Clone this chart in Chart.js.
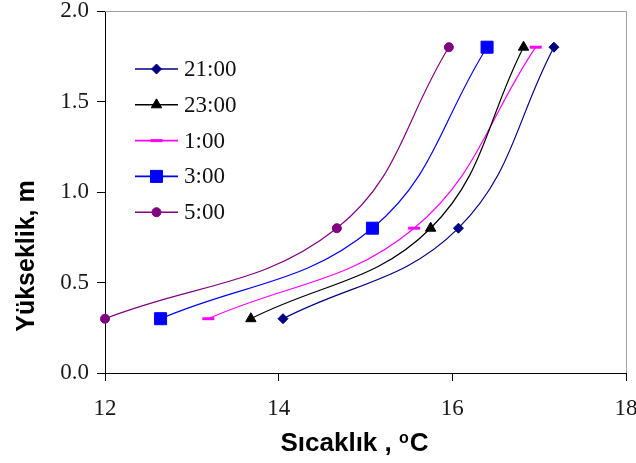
<!DOCTYPE html>
<html>
<head>
<meta charset="utf-8">
<script src="https://cdn.jsdelivr.net/npm/chart.js@4.4.1/dist/chart.umd.min.js"></script>
<style>
  html, body { margin: 0; padding: 0; background: #fff; }
  #wrap { width: 636px; height: 463px; }
</style>
</head>
<body>
<div id="wrap"><canvas id="chart" width="636" height="463"></canvas></div>
<script>
// === data ===
const heights = [0.3, 0.8, 1.8];          // Yükseklik, m
const seriesNames = ['21:00', '23:00', '1:00', '3:00', '5:00'];
const temp2100 = [14.05, 16.07, 17.17];   // Sıcaklık, °C
const temp2300 = [13.68, 15.75, 16.82];
const temp0100 = [13.19, 15.56, 16.96];
const temp0300 = [12.64, 15.08, 16.40];
const temp0500 = [12.00, 14.67, 15.96];

const xTickValues = [12, 14, 16, 18];
const xTickLabels = ['12', '14', '16', '18'];
const yTickValues = [0, 0.5, 1.0, 1.5, 2.0];
const yTickLabels = ['0.0', '0.5', '1.0', '1.5', '2.0'];

// === styles ===
const styles = [
  { color: '#000080', pointStyle: 'rectRot',  radius: 5,   pointBorderWidth: 1 },
  { color: '#000000', pointStyle: 'triangle', radius: 6,   pointBorderWidth: 1 },
  { color: '#ff00ff', pointStyle: 'line',     radius: 6,   pointBorderWidth: 3 },
  { color: '#0000ff', pointStyle: 'rect',     radius: 8.5, pointBorderWidth: 1 },
  { color: '#800080', pointStyle: 'circle',   radius: 4.5, pointBorderWidth: 1 }
];
const allTemps = [temp2100, temp2300, temp0100, temp0300, temp0500];

const datasets = allTemps.map((temps, i) => ({
  label: seriesNames[i],
  data: temps.map((t, k) => ({ x: t, y: heights[k] })),
  showLine: true,
  tension: 0.4,
  borderColor: styles[i].color,
  backgroundColor: styles[i].color,
  borderWidth: 1.2,
  pointStyle: styles[i].pointStyle,
  pointRadius: styles[i].radius,
  pointHoverRadius: styles[i].radius,
  pointBorderWidth: styles[i].pointBorderWidth,
  pointBackgroundColor: styles[i].color,
  pointBorderColor: styles[i].color,
  clip: false
}));

const SERIF = '"Liberation Serif", "Times New Roman", serif';
const SANS = '"Liberation Sans", Arial, sans-serif';

// grey frame on top and right of the plot
const framePlugin = {
  id: 'frame',
  beforeDatasetsDraw(chart) {
    const { ctx, chartArea: a } = chart;
    ctx.save();
    ctx.strokeStyle = '#a0a0a0';
    ctx.lineWidth = 1;
    ctx.beginPath();
    ctx.moveTo(a.left, a.top + 0.5);
    ctx.lineTo(a.right + 0.5, a.top + 0.5);
    ctx.lineTo(a.right + 0.5, a.bottom);
    ctx.stroke();
    ctx.restore();
  }
};

// legend inside the plot (line + marker + label)
const insideLegend = {
  id: 'insideLegend',
  afterDatasetsDraw(chart) {
    const { ctx, chartArea: a } = chart;
    const x0 = a.left + 30, x1 = a.left + 73, y0 = a.top + 58, step = 35.8;
    ctx.save();
    chart.data.datasets.forEach((ds, i) => {
      const y = y0 + i * step;
      ctx.strokeStyle = ds.borderColor;
      ctx.lineWidth = 1.6;
      ctx.beginPath();
      ctx.moveTo(x0, y);
      ctx.lineTo(x1, y);
      ctx.stroke();
      ctx.fillStyle = ds.pointBackgroundColor;
      ctx.strokeStyle = ds.pointBorderColor;
      ctx.lineWidth = ds.pointBorderWidth;
      Chart.helpers.drawPoint(ctx, {
        pointStyle: ds.pointStyle,
        radius: ds.pointRadius,
        rotation: 0,
        borderWidth: ds.pointBorderWidth
      }, (x0 + x1) / 2, y);
      ctx.fillStyle = '#111';
      ctx.font = '23px ' + SERIF;
      ctx.textAlign = 'left';
      ctx.textBaseline = 'middle';
      ctx.fillText(ds.label, x1 + 6, y + 1);
    });
    ctx.restore();
  }
};

// axis titles (x title has a superscript "o")
const axisTitles = {
  id: 'axisTitles',
  afterDraw(chart) {
    const { ctx, chartArea: a } = chart;
    ctx.save();
    ctx.fillStyle = '#000';
    ctx.textBaseline = 'alphabetic';

    // y title
    ctx.font = 'bold 25px ' + SANS;
    ctx.translate(33.5, (a.top + a.bottom) / 2 + 64);
    ctx.rotate(-Math.PI / 2);
    ctx.textAlign = 'center';
    ctx.fillText('Yükseklik, m', 0, 0);
    ctx.setTransform(1, 0, 0, 1, 0, 0);

    // x title
    const part1 = 'Sıcaklık , ', sup = 'o', part2 = 'C';
    const big = 'bold 26px ' + SANS, small = 'bold 16px ' + SANS;
    ctx.font = big;
    const w1 = ctx.measureText(part1).width, w3 = ctx.measureText(part2).width;
    ctx.font = small;
    const w2 = ctx.measureText(sup).width;
    const cx = 354, base = 451;
    let x = cx - (w1 + w2 + w3) / 2;
    ctx.textAlign = 'left';
    ctx.font = big;
    ctx.fillText(part1, x, base);
    x += w1;
    ctx.font = small;
    ctx.fillText(sup, x, base - 8);
    x += w2 + 1;
    ctx.font = big;
    ctx.fillText(part2, x, base);
    ctx.restore();
  }
};

Chart.defaults.font.family = SERIF;
Chart.defaults.color = '#1a1a1a';

new Chart(document.getElementById('chart'), {
  type: 'scatter',
  data: { datasets },
  options: {
    responsive: false,
    animation: false,
    layout: { padding: { left: 0, right: 10, top: 11, bottom: 0 } },
    plugins: { legend: { display: false }, tooltip: { enabled: false } },
    scales: {
      x: {
        type: 'linear',
        min: 12, max: 18,
        afterBuildTicks: s => { s.ticks = xTickValues.map(v => ({ value: v })); },
        afterFit: s => { s.height = 90; s.paddingLeft = 0; s.paddingRight = 0; },
        ticks: {
          callback: (v, i) => xTickLabels[i],
          font: { size: 23, family: SERIF },
          padding: 14,
          maxRotation: 0
        },
        grid: { drawOnChartArea: false, drawTicks: true, tickLength: 8, color: '#000' },
        border: { display: true, color: '#000', width: 1 }
      },
      y: {
        type: 'linear',
        min: 0, max: 2,
        afterBuildTicks: s => { s.ticks = yTickValues.map(v => ({ value: v })); },
        afterFit: s => { s.width = 105; s.paddingTop = 0; s.paddingBottom = 0; },
        ticks: {
          callback: (v, i) => yTickLabels[i],
          font: { size: 23, family: SERIF },
          padding: 8
        },
        grid: { drawOnChartArea: false, drawTicks: true, tickLength: 8, color: '#000' },
        border: { display: true, color: '#000', width: 1 }
      }
    }
  },
  plugins: [framePlugin, insideLegend, axisTitles]
});
</script>
</body>
</html>
